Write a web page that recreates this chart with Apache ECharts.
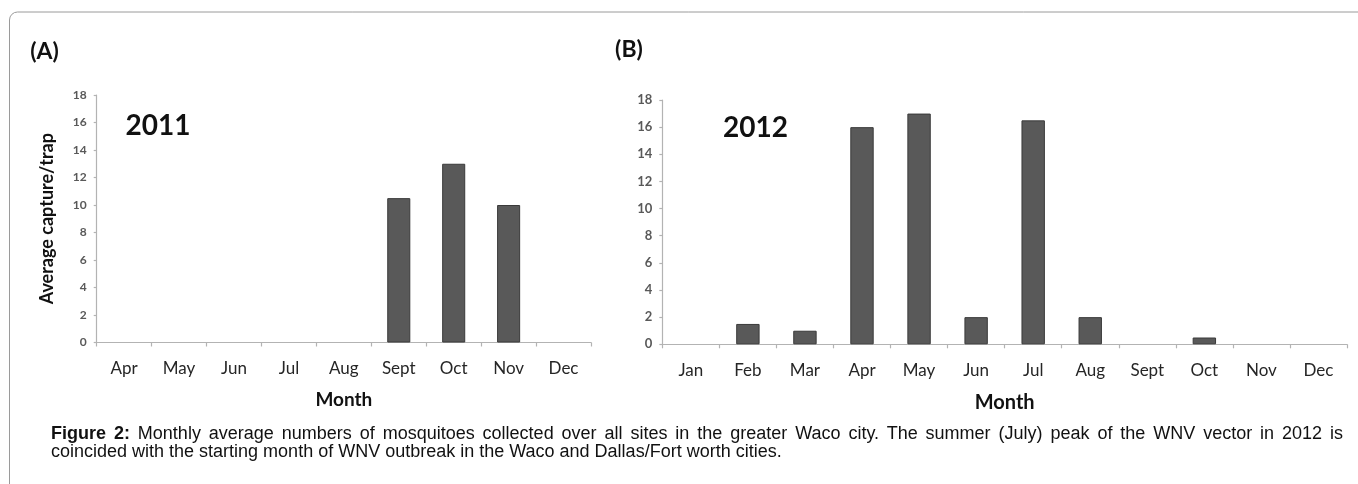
<!DOCTYPE html>
<html><head><meta charset="utf-8">
<script src="https://cdn.jsdelivr.net/npm/echarts@6/dist/echarts.min.js"></script>
<style>
html,body{margin:0;padding:0;background:#fff;}
#c{position:absolute;left:0;top:0;width:1358px;height:484px;}
#cap{position:absolute;left:51px;top:423.5px;width:1292px;font-family:"Liberation Sans",Arial,sans-serif;font-size:18px;line-height:18.5px;color:#111;}
#cap .l1{text-align:justify;text-align-last:justify;}
</style></head>
<body>
<div id="c"></div>
<div id="cap"><div class="l1"><b>Figure 2:</b> Monthly average numbers of mosquitoes collected over all sites in the greater Waco city. The summer (July) peak of the WNV vector in 2012 is</div><div>coincided with the starting month of WNV outbreak in the Waco and Dallas/Fort worth cities.</div></div>
<script>
const monthsA = ['Apr','May','Jun','Jul','Aug','Sept','Oct','Nov','Dec'];
const valuesA = [0,0,0,0,0,10.5,13,10,0];
const monthsB = ['Jan','Feb','Mar','Apr','May','Jun','Jul','Aug','Sept','Oct','Nov','Dec'];
const valuesB = [0,1.5,1,16,17,2,16.5,2,0,0.5,0,0];
const yMin = 0, yMax = 18, yStep = 2;
const yNameA = 'Average capture/trap';
const xName = 'Month';

const FONT = 'Lato, "Open Sans", sans-serif';
const barStyle = {color:'#595959', borderColor:'#3a3a3a', borderWidth:1};
function mk(vals){ return vals.map(v => v === 0 ? {value:0, itemStyle:{borderWidth:0}} : v); }

function xAx(idx, cats, gap, nameSize){
  return {type:'category', gridIndex:idx, data:cats,
    axisLine:{lineStyle:{color:'#b3b3b3', width:1.2}},
    axisTick:{show:true, length:4, lineStyle:{color:'#b3b3b3', width:1.2}},
    axisLabel:{color:'#262626', fontFamily:FONT, fontSize:17, margin:18, interval:0},
    name:xName, nameLocation:'middle', nameGap:gap,
    nameTextStyle:{fontFamily:FONT, fontWeight:'bold', fontSize:nameSize, color:'#111'}};
}
function yAx(idx, name, fs){
  const a = {type:'value', gridIndex:idx, min:yMin, max:yMax, interval:yStep,
    splitLine:{show:false},
    axisLine:{show:true, lineStyle:{color:'#b3b3b3', width:1.2}},
    axisTick:{show:true, length:3, lineStyle:{color:'#b3b3b3', width:1.2}},
    axisLabel:{color:'#595959', fontFamily:FONT, fontWeight:'bold', fontSize:fs, margin:10}};
  if(name){ a.name = name; a.nameLocation='middle'; a.nameGap=41;
    a.nameTextStyle={fontFamily:FONT, fontWeight:'bold', fontSize:18, color:'#111'}; }
  return a;
}

const chart = echarts.init(document.getElementById('c'));
chart.setOption({
  animation:false,
  grid:[
    {left:96.7, top:95, width:494.3, height:247.5},
    {left:662.3, top:100, width:684.7, height:244.3}
  ],
  xAxis:[xAx(0, monthsA, 48, 19), xAx(1, monthsB, 48, 20)],
  yAxis:[yAx(0, yNameA, 12), yAx(1, null, 13)],
  series:[
    {type:'bar', xAxisIndex:0, yAxisIndex:0, data:mk(valuesA), barWidth:'42%', itemStyle:barStyle},
    {type:'bar', xAxisIndex:1, yAxisIndex:1, data:mk(valuesB), barWidth:'41%', itemStyle:barStyle}
  ],
  graphic:[
    {type:'rect', shape:{x:9.5, y:12, width:1400, height:500, r:8}, style:{fill:null, stroke:'#9a9a9a', lineWidth:1}, silent:true},
    {type:'text', x:44.5, y:51.7, style:{text:'(A)', font:'bold 23px '+FONT, fill:'#111', align:'center', verticalAlign:'middle'}},
    {type:'text', x:629, y:49.3, style:{text:'(B)', font:'bold 23px '+FONT, fill:'#111', align:'center', verticalAlign:'middle'}},
    {type:'text', x:158, y:126, style:{text:'2011', font:'bold 28px '+FONT, fill:'#111', align:'center', verticalAlign:'middle'}},
    {type:'text', x:755.5, y:128, style:{text:'2012', font:'bold 28px '+FONT, fill:'#111', align:'center', verticalAlign:'middle'}}
  ]
});
</script>
</body></html>
